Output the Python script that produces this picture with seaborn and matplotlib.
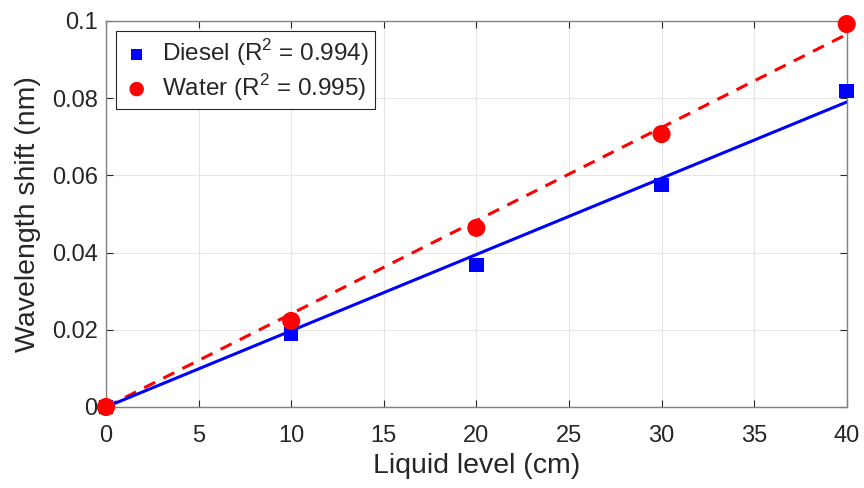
import numpy as np
import pandas as pd
import seaborn as sns
import matplotlib
matplotlib.use("Agg")
import matplotlib.pyplot as plt
from matplotlib.ticker import FuncFormatter

level = [0, 10, 20, 30, 40]
diesel = [0.0, 0.0189, 0.0368, 0.0575, 0.0819]
water = [0.0, 0.0223, 0.0464, 0.0707, 0.0992]
diesel_label = "Diesel (R$^2$ = 0.994)"
water_label = "Water (R$^2$ = 0.995)"

sns.set_theme(style="whitegrid")
plt.rcParams['font.family'] = ['Liberation Sans', 'DejaVu Sans']
plt.rcParams['mathtext.fontset'] = 'custom'
plt.rcParams['mathtext.rm'] = 'Liberation Sans'

fig = plt.figure(figsize=(8.64, 4.88), dpi=100)
ax = fig.add_axes([0.1227, 0.166, 0.8573, 0.791])

df = pd.DataFrame({"level": level, "diesel": diesel, "water": water})
x = np.array(level, dtype=float)
kd = np.sum(x * np.array(diesel)) / np.sum(x * x)
kw = np.sum(x * np.array(water)) / np.sum(x * x)
fit = pd.DataFrame({"level": x, "d": kd * x, "w": kw * x})

sns.lineplot(data=fit, x="level", y="w", ax=ax, color="#ff0000", lw=2.2,
             linestyle=(0, (4, 3)), legend=False, zorder=2)
sns.lineplot(data=fit, x="level", y="d", ax=ax, color="#0000ff", lw=2.2,
             legend=False, zorder=2)
sns.scatterplot(data=df, x="level", y="diesel", ax=ax, marker="s", s=110,
                color="#0000ff", edgecolor="none", label=diesel_label, zorder=3,
                clip_on=False)
sns.scatterplot(data=df, x="level", y="water", ax=ax, marker="o", s=170,
                color="#ff0000", edgecolor="none", label=water_label, zorder=3,
                clip_on=False)

ax.set_xlim(0, 40)
ax.set_ylim(0, 0.1)
ax.set_xticks(np.arange(0, 41, 5))
ax.set_yticks([0, 0.02, 0.04, 0.06, 0.08, 0.1])
ax.yaxis.set_major_formatter(FuncFormatter(lambda v, p: "0" if v == 0 else f"{v:g}"))
ax.tick_params(axis="both", labelsize=17, colors="#262626", length=5,
               direction="in", bottom=True, left=True, top=True, right=True, width=0.8)
ax.tick_params(axis="y", labelcolor="#262626", pad=6)
ax.tick_params(axis="x", labelcolor="#262626", pad=13)
ax.set_xlabel("Liquid level (cm)", fontsize=20.5, color="#262626", labelpad=4)
ax.set_ylabel("Wavelength shift (nm)", fontsize=20.5, color="#262626", labelpad=8)
ax.grid(True, color="#e6e6e6", lw=0.8)
for s in ax.spines.values():
    s.set_color("#808080")
    s.set_linewidth(1.0)
ax.set_facecolor("white")

leg = ax.legend(loc="upper left", fontsize=17.5, frameon=True, fancybox=False,
                edgecolor="#262626", framealpha=1, borderpad=0.25,
                handletextpad=0.45, labelspacing=0.15, handlelength=1.2,
                borderaxespad=0, bbox_to_anchor=(0.0135, 0.974), markerscale=0.8)
leg.get_frame().set_linewidth(0.8)

fig.savefig("out.png", dpi=100)
